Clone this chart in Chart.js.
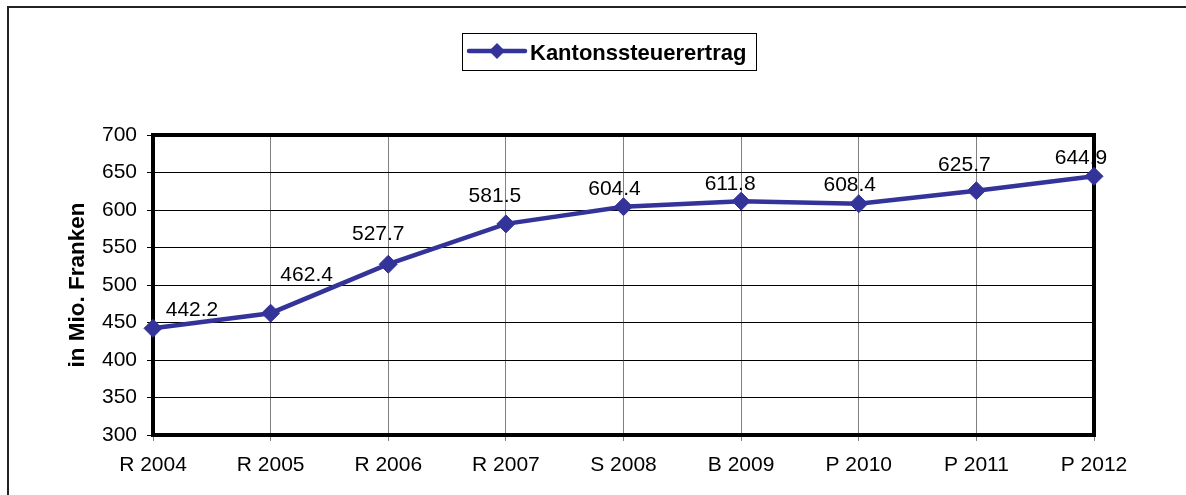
<!DOCTYPE html>
<html>
<head>
<meta charset="utf-8">
<script src="https://cdn.jsdelivr.net/npm/chart.js@4.4.1/dist/chart.umd.min.js"></script>
<style>
  html, body { margin: 0; padding: 0; background: #fff; }
  #wrap { width: 1186px; height: 495px; }
</style>
</head>
<body>
<div id="wrap"><canvas id="c" width="1186" height="495"></canvas></div>
<script>
// ---- data ----
const categories = ['R 2004', 'R 2005', 'R 2006', 'R 2007', 'S 2008', 'B 2009', 'P 2010', 'P 2011', 'P 2012'];
const values = [442.2, 462.4, 527.7, 581.5, 604.4, 611.8, 608.4, 625.7, 644.9];
const seriesName = 'Kantonssteuerertrag';
const yAxisTitle = 'in Mio. Franken';
const yMin = 300, yMax = 700, yStep = 50;

// ---- label placement (style) ----
const labelDX = [39, 36, -10, -11, -9, -11, -9, -12, -13];
const labelDY = [-18, -38, -30, -28, -17, -17, -18, -26, -18];

const FONT = "'Liberation Sans', Arial, sans-serif";
const LINE_COLOR = '#333399';

const decorPlugin = {
  id: 'decor',
  beforeDatasetsDraw(chart) {
    const ctx = chart.ctx;
    const a = chart.chartArea;
    ctx.save();
    ctx.strokeStyle = '#000';
    ctx.lineWidth = 4;
    ctx.strokeRect(a.left, a.top, a.right - a.left, a.bottom - a.top);
    ctx.restore();
  },
  afterDraw(chart) {
    const ctx = chart.ctx;
    ctx.save();
    // outer frame (top + left)
    ctx.strokeStyle = '#222';
    ctx.lineWidth = 2;
    ctx.beginPath();
    ctx.moveTo(8, 495);
    ctx.lineTo(8, 7);
    ctx.lineTo(1186, 7);
    ctx.stroke();

    // data labels
    const meta = chart.getDatasetMeta(0);
    ctx.fillStyle = '#000';
    ctx.font = '21px ' + FONT;
    ctx.textAlign = 'center';
    ctx.textBaseline = 'middle';
    meta.data.forEach((pt, i) => {
      ctx.fillText(values[i].toFixed(1), pt.x + labelDX[i], pt.y + labelDY[i]);
    });

    // y axis title
    ctx.save();
    ctx.translate(78, 285);
    ctx.rotate(-Math.PI / 2);
    ctx.font = 'bold 22.5px ' + FONT;
    ctx.textAlign = 'center';
    ctx.textBaseline = 'middle';
    ctx.fillText(yAxisTitle, 0, 0);
    ctx.restore();

    // legend
    ctx.strokeStyle = '#000';
    ctx.lineWidth = 1;
    ctx.strokeRect(462.5, 33.5, 294, 37);
    ctx.strokeStyle = LINE_COLOR;
    ctx.lineWidth = 4.5;
    ctx.lineCap = 'round';
    ctx.beginPath();
    ctx.moveTo(469, 51);
    ctx.lineTo(525, 51);
    ctx.stroke();
    ctx.fillStyle = LINE_COLOR;
    ctx.beginPath();
    ctx.moveTo(497 - 8, 51);
    ctx.lineTo(497, 51 - 8);
    ctx.lineTo(497 + 8, 51);
    ctx.lineTo(497, 51 + 8);
    ctx.closePath();
    ctx.fill();
    ctx.fillStyle = '#000';
    ctx.font = 'bold 22px ' + FONT;
    ctx.textAlign = 'left';
    ctx.textBaseline = 'alphabetic';
    ctx.fillText(seriesName, 530, 60);
    ctx.restore();
  }
};

new Chart(document.getElementById('c'), {
  type: 'line',
  data: {
    labels: categories,
    datasets: [{
      label: seriesName,
      data: values,
      borderColor: LINE_COLOR,
      backgroundColor: LINE_COLOR,
      borderWidth: 4.5,
      pointStyle: 'rectRot',
      pointRadius: 9,
      pointBorderWidth: 1,
      pointBackgroundColor: LINE_COLOR,
      pointBorderColor: LINE_COLOR,
      tension: 0,
      fill: false,
      clip: false
    }]
  },
  options: {
    responsive: false,
    animation: false,
    devicePixelRatio: 1,
    layout: { padding: { left: 0, top: 135, right: 92, bottom: 0 } },
    plugins: { legend: { display: false }, tooltip: { enabled: false } },
    scales: {
      x: {
        offset: false,
        grid: { color: '#808080', lineWidth: 1, tickLength: 6, drawTicks: true },
        border: { display: false },
        ticks: { color: '#000', font: { family: FONT, size: 21 }, padding: 12, maxRotation: 0, autoSkip: false },
        afterFit(scale) { scale.height = 60; }
      },
      y: {
        min: yMin, max: yMax,
        grid: { color: '#000', lineWidth: 1, tickLength: 6 },
        border: { display: false },
        ticks: { stepSize: yStep, color: '#000', font: { family: FONT, size: 21 }, padding: 10 },
        afterFit(scale) { scale.width = 153; }
      }
    }
  },
  plugins: [decorPlugin]
});
</script>
</body>
</html>
